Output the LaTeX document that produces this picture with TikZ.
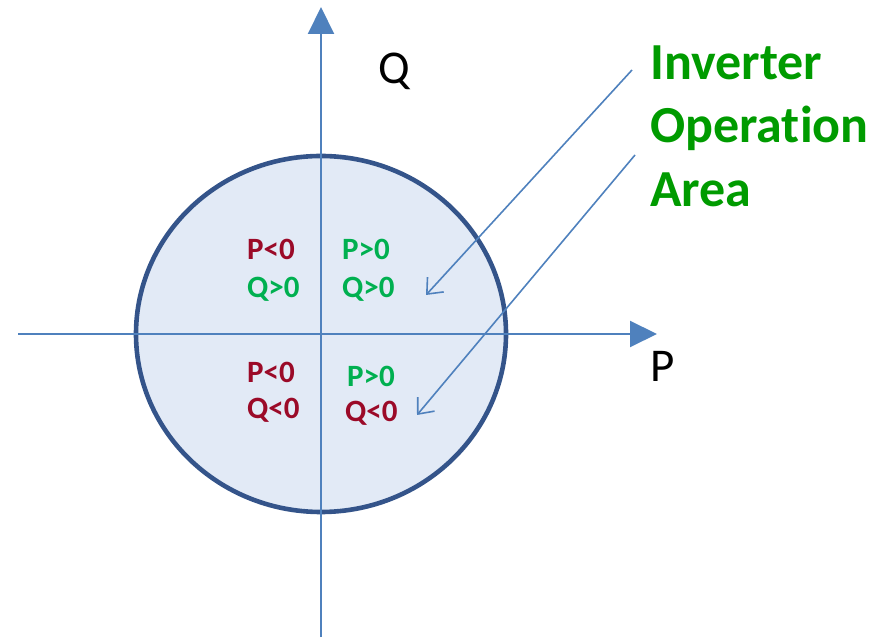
\documentclass[tikz,border=0pt]{standalone}
\usepackage{fontspec}
\setmainfont{Carlito}[Ligatures={NoCommon}]
\definecolor{axisblue}{RGB}{79, 129, 189}
\definecolor{rimblue}{RGB}{52, 84, 138}
\definecolor{areafill}{RGB}{226, 234, 246}
\definecolor{negred}{RGB}{155, 10, 40}
\definecolor{posgreen}{RGB}{0, 176, 80}
\definecolor{titlegreen}{RGB}{0, 155, 0}
\usetikzlibrary{arrows.meta, positioning, shapes.geometric}
\tikzset{
  % Axes with solid triangle heads.
  axis/.style={
    -{Triangle[length=27pt, width=26pt]},
    line width=2pt, draw=axisblue,
  },
  % Thin pointer with open barb.
  pointer/.style={
    -{Straight Barb[length=13pt, width=22pt]},
    line width=1.6pt, draw=axisblue,
  },
  % Operating area.
  area/.style={
    ellipse, draw=rimblue, line width=4.6pt, fill=areafill, inner sep=0pt,
  },
  % Sign labels in the quadrants.
  sign/.style={
    anchor=base west, inner sep=0pt,
    font=\fontsize{31}{38}\selectfont\bfseries,
  },
  sign-neg/.style={sign, text=negred},
  sign-pos/.style={sign, text=posgreen},
  axis-label/.style={
    anchor=base west, inner sep=0pt,
    font=\fontsize{47}{56}\selectfont,
  },
  title-line/.style={
    anchor=base west, inner sep=0pt, text=titlegreen,
    font=\fontsize{52}{63}\selectfont\bfseries,
  },
}
\begin{document}
\begin{tikzpicture}[x=1pt, y=1pt]
  \useasboundingbox (0,0) rectangle (883,637);

  % Operating area.
  \node[area, minimum width=370pt, minimum height=356pt] (disc) at (321,303) {};

  % Axes.
  \coordinate (pwest) at (18,303);
  \coordinate (peast) at (657,303);
  \coordinate (qsouth) at (321,0);
  \coordinate (qnorth) at (321,630);
  \draw[axis] (pwest) -- (peast);
  \draw[axis] (qsouth) -- (qnorth);

  \node[axis-label] (qlab) at (378,553) {Q};
  \node[axis-label] (plab) at (650,255) {P};

  % Quadrant signs.
  \node[sign-neg] (ulp) at (247,377) {P<0};
  \node[sign-pos] (ulq) at (247,339) {Q>0};
  \node[sign-pos] (urp) at (342,377) {P>0};
  \node[sign-pos] (urq) at (342,339) {Q>0};
  \node[sign-neg] (llp) at (247,254) {P<0};
  \node[sign-neg] (llq) at (247,218) {Q<0};
  \node[sign-pos] (lrp) at (347,250) {P>0};
  \node[sign-neg] (lrq) at (345,215) {Q<0};

  % Title and pointers into the area.
  \node[title-line] (tinv) at (650,557) {Inverter};
  \node[title-line] (top) at (650,494) {Operation};
  \node[title-line] (tarea) at (650,430) {Area};

  \coordinate (src1) at (632,567);
  \coordinate (dst1) at (426,342);
  \coordinate (src2) at (635,482);
  \coordinate (dst2) at (417,222);
  \draw[pointer] (src1) -- (dst1);
  \draw[pointer] (src2) -- (dst2);

\end{tikzpicture}
\end{document}
